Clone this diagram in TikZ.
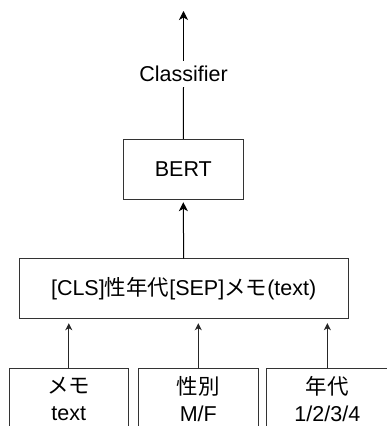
\documentclass[tikz,border=0pt]{standalone}
\usepackage{fontspec}
\setmainfont{Liberation Sans}
\newfontfamily\jp{Noto Sans CJK JP}
\usetikzlibrary{arrows.meta}

\tikzset{
  lbl/.style={font=\fontsize{21.5}{26.5}\selectfont, text=black},
  box/.style={draw=black!80, line width=1pt, inner sep=0pt, lbl, align=center},
  bigarrow/.style={draw=black, line width=1pt, -{Stealth[length=9pt,width=9pt,inset=2.5pt]}},
  smallarrow/.style={draw=black!85, line width=1pt, -{Stealth[length=7pt,width=7pt,inset=2pt]}},
}

\begin{document}
\begin{tikzpicture}[x=1pt, y=1pt]
  \useasboundingbox (0,0) rectangle (387,426);

  % output head
  \coordinate (out) at (183.5,415);
  \node[lbl, minimum height=26pt, inner sep=0pt] (clf) at (183.5,352) {Classifier};

  % encoder
  \node[box, minimum width=120pt, minimum height=60pt] (bert) at (183.3,256.7) {BERT};

  % joined input sequence
  \node[box, minimum width=328.7pt, minimum height=60pt] (seq) at (183.65,137)
    {[CLS]{\jp 性年代}[SEP]{\jp メモ}(text)};

  % raw input fields (run past the lower edge)
  \node[box, minimum width=119pt, minimum height=60pt] (memo) at (68.8,27)
    {{\jp メモ}\\text};
  \node[box, minimum width=120pt, minimum height=60pt] (sex) at (198.3,27)
    {{\jp 性別}\\M/F};
  \node[box, minimum width=121.3pt, minimum height=60pt] (age) at (327.35,27)
    {{\jp 年代}\\1/2/3/4};

  % connectors
  \draw[line width=1pt] (bert.north) -- (clf.south);
  \draw[bigarrow] (clf.north) -- (out);
  \draw[bigarrow, shorten >=2.4pt] (seq.north) -- (bert.south);
  \draw[smallarrow, shorten >=3.7pt] (memo.north) -- (memo.north |- seq.south);
  \draw[smallarrow, shorten >=3.7pt] (sex.north) -- (sex.north |- seq.south);
  \draw[smallarrow, shorten >=3.7pt] (age.north) -- (age.north |- seq.south);
\end{tikzpicture}
\end{document}
